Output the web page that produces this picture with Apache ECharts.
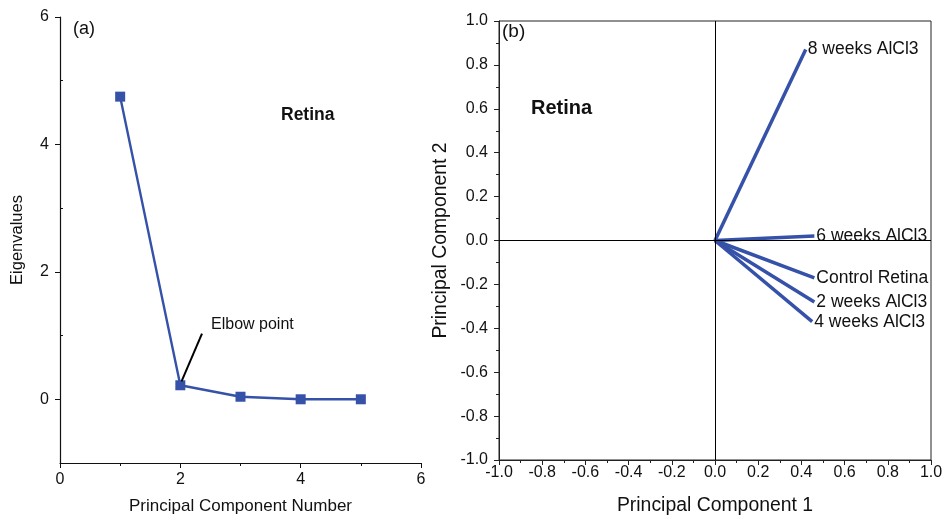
<!DOCTYPE html>
<html>
<head>
<meta charset="utf-8">
<script src="https://cdn.jsdelivr.net/npm/echarts@6/dist/echarts.min.js"></script>
<style>html,body{margin:0;padding:0;background:#fff}#c{width:949px;height:520px}</style>
</head>
<body>
<div id="c"></div>
<script>
// ---- Data ----
var componentNumbers = [1, 2, 3, 4, 5];
var eigenvalues = [4.75, 0.22, 0.04, 0.0, 0.0];
var elbowLine = [[2.36, 1.03], [2.02, 0.28]];
var loadingNames = ['8 weeks AlCl3', '6 weeks AlCl3', 'Control Retina', '2 weeks AlCl3', '4 weeks AlCl3'];
var loadingPC1 = [0.42, 0.46, 0.46, 0.46, 0.45];
var loadingPC2 = [0.87, 0.02, -0.17, -0.28, -0.37];
var leftMajorY = [0, 2, 4, 6];
var leftMinorY = [1, 3, 5];

var FONT = "'Liberation Sans', Arial, Helvetica, sans-serif";
var BLUE = '#3551a8';

var chart = echarts.init(document.getElementById('c'), null, {renderer: 'canvas'});

var screeData = componentNumbers.map(function (n, i) { return [n, eigenvalues[i]]; });

var series = [
  {
    type: 'line', xAxisIndex: 0, yAxisIndex: 0,
    data: screeData,
    symbol: 'rect', symbolSize: 10,
    lineStyle: {color: BLUE, width: 2.4},
    itemStyle: {color: BLUE},
    z: 3
  },
  {
    type: 'line', xAxisIndex: 0, yAxisIndex: 0,
    data: elbowLine,
    symbol: 'none',
    lineStyle: {color: '#000', width: 2},
    z: 4
  },
  {
    type: 'line', xAxisIndex: 1, yAxisIndex: 2,
    data: [], silent: true, z: 1,
    markLine: {
      silent: true, symbol: 'none', animation: false,
      label: {show: false},
      lineStyle: {color: '#000', width: 1, type: 'solid'},
      emphasis: {disabled: true},
      data: [{xAxis: 0}, {yAxis: 0}]
    }
  }
];

loadingNames.forEach(function (name, i) {
  series.push({
    type: 'line', xAxisIndex: 1, yAxisIndex: 2,
    name: name,
    data: [[0, 0], [loadingPC1[i], loadingPC2[i]]],
    symbol: 'none',
    lineStyle: {color: BLUE, width: 3.5},
    endLabel: {
      show: true, distance: 2,
      formatter: name, color: '#111', fontFamily: FONT, fontSize: 17.5
    },
    z: 3
  });
});

var option = {
  animation: false,
  backgroundColor: '#fff',
  grid: [
    {left: 60, top: 17, width: 361, height: 448, show: false},
    {left: 499, top: 21, width: 432, height: 441, show: true, borderColor: '#222', borderWidth: 1, backgroundColor: 'transparent'}
  ],
  xAxis: [
    {
      gridIndex: 0, type: 'value', min: 0, max: 6, interval: 2,
      name: 'Principal Component Number', nameLocation: 'middle', nameGap: 35,
      nameTextStyle: {fontFamily: FONT, fontSize: 17, color: '#111'},
      axisLine: {onZero: false, lineStyle: {color: '#111', width: 1.2}},
      axisTick: {show: true, length: 5, lineStyle: {color: '#111'}},
      minorTick: {show: true, splitNumber: 2, length: 3, lineStyle: {color: '#111'}},
      axisLabel: {fontFamily: FONT, fontSize: 16, color: '#111', margin: 9},
      splitLine: {show: false}
    },
    {
      gridIndex: 1, type: 'value', min: -1, max: 1, interval: 0.2,
      name: 'Principal Component 1', nameLocation: 'middle', nameGap: 36,
      nameTextStyle: {fontFamily: FONT, fontSize: 19.4, color: '#111'},
      axisLine: {onZero: false, lineStyle: {color: '#222', width: 1}},
      axisTick: {show: true, length: 5, lineStyle: {color: '#222'}},
      minorTick: {show: true, splitNumber: 2, length: 3, lineStyle: {color: '#222'}},
      axisLabel: {fontFamily: FONT, fontSize: 16, color: '#111', margin: 5,
        formatter: function (v) { return v.toFixed(1); }},
      splitLine: {show: false}
    }
  ],
  yAxis: [
    {
      gridIndex: 0, type: 'value', min: -1, max: 6,
      name: 'Eigenvalues', nameLocation: 'middle', nameGap: 34,
      nameTextStyle: {fontFamily: FONT, fontSize: 16.5, color: '#111'},
      axisLine: {onZero: false, lineStyle: {color: '#111', width: 1.2}},
      axisTick: {show: true, length: 5, customValues: leftMajorY, lineStyle: {color: '#111'}},
      axisLabel: {fontFamily: FONT, fontSize: 16, color: '#111', margin: 11, customValues: leftMajorY},
      splitLine: {show: false}
    },
    {
      gridIndex: 0, type: 'value', min: -1, max: 6,
      axisLine: {show: false},
      axisTick: {show: true, length: 3, customValues: leftMinorY, lineStyle: {color: '#111'}},
      axisLabel: {show: false},
      splitLine: {show: false}
    },
    {
      gridIndex: 1, type: 'value', min: -1, max: 1, interval: 0.2,
      name: 'Principal Component 2', nameLocation: 'middle', nameGap: 49,
      nameTextStyle: {fontFamily: FONT, fontSize: 19.4, color: '#111'},
      axisLine: {onZero: false, lineStyle: {color: '#222', width: 1}},
      axisTick: {show: true, length: 5, lineStyle: {color: '#222'}},
      minorTick: {show: true, splitNumber: 2, length: 3, lineStyle: {color: '#222'}},
      axisLabel: {fontFamily: FONT, fontSize: 16, color: '#111', margin: 11,
        formatter: function (v) { return v.toFixed(1); }},
      splitLine: {show: false}
    }
  ],
  graphic: [
    {type: 'text', left: 73, top: 20, style: {text: '(a)', font: '18px ' + FONT, fill: '#111'}},
    {type: 'text', left: 281, top: 106, style: {text: 'Retina', font: 'bold 17.5px ' + FONT, fill: '#111'}},
    {type: 'text', left: 211, top: 317, style: {text: 'Elbow point', font: '16px ' + FONT, fill: '#111'}},
    {type: 'text', left: 502, top: 22, style: {text: '(b)', font: '19px ' + FONT, fill: '#111'}},
    {type: 'text', left: 531, top: 98, style: {text: 'Retina', font: 'bold 20px ' + FONT, fill: '#111'}}
  ],
  series: series
};

chart.setOption(option);
</script>
</body>
</html>
